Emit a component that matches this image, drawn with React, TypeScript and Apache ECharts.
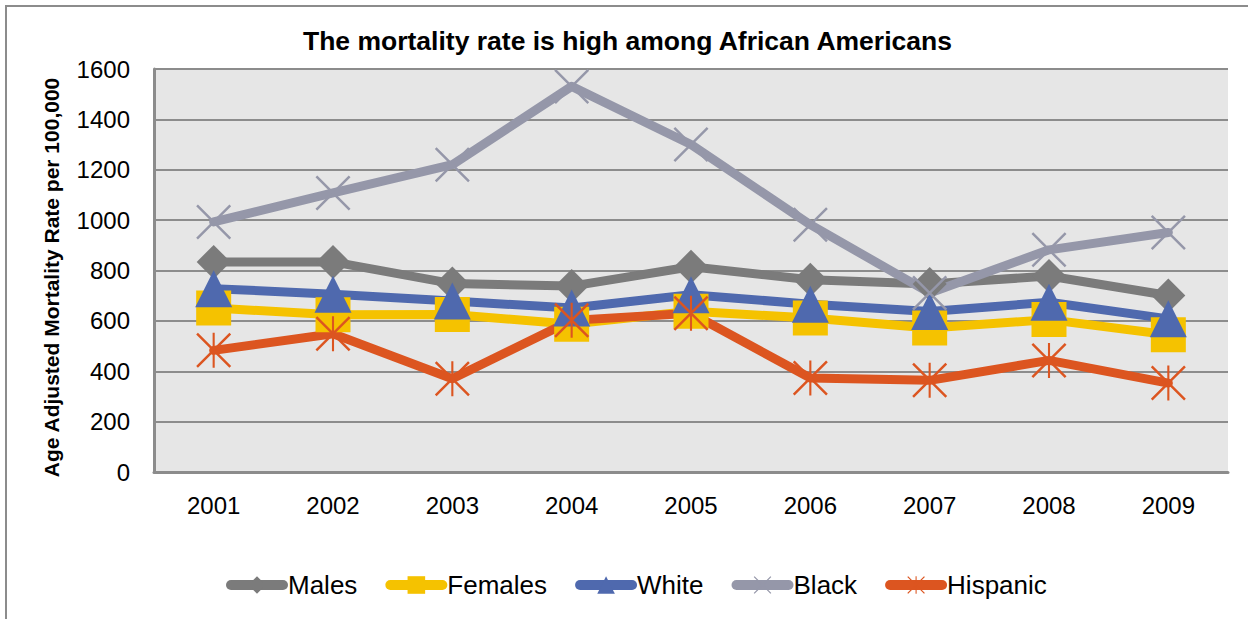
import React, { useEffect, useRef } from "react";
import * as echarts from "echarts";

const years = ["2001", "2002", "2003", "2004", "2005", "2006", "2007", "2008", "2009"];
const males = [834, 834, 748, 738, 815, 763, 746, 778, 701];
const females = [651, 624, 625, 587, 638, 611, 572, 605, 545];
const white = [728, 706, 679, 651, 704, 666, 637, 674, 608];
const black = [993, 1108, 1220, 1531, 1300, 982, 711, 882, 951];
const hispanic = [483, 549, 370, 602, 630, 373, 364, 443, 353];

const titleText = "The mortality rate is high among African Americans";
const yAxisName = "Age Adjusted Mortality Rate per 100,000";

const X_PATH = "path://M0,5 L5,0 L100,95 L95,100 Z M95,0 L100,5 L5,100 L0,95 Z";
const STAR_PATH =
  "path://M0,5 L5,0 L100,95 L95,100 Z M95,0 L100,5 L5,100 L0,95 Z M47,0 L53,0 L53,100 L47,100 Z";

const FONT = "'Liberation Sans', Arial, sans-serif";

export default function App() {
  const ref = useRef<HTMLDivElement>(null);
  useEffect(() => {
    document.body.style.margin = "0";
    if (!ref.current) return;
    const chart = echarts.init(ref.current, null, { renderer: "svg" });
    const mk = (name: string, data: number[], color: string, symbol: string, size: number) => ({
      name,
      type: "line",
      data,
      symbol,
      symbolSize: size,
      showAllSymbol: true,
      lineStyle: { color, width: 9, cap: "round", join: "round" },
      itemStyle: { color },
      emphasis: { disabled: true },
    });
    chart.setOption({
      animation: false,
      textStyle: { fontFamily: FONT },
      title: {
        text: titleText,
        left: 303,
        top: 27,
        padding: 0,
        textStyle: { fontSize: 26.5, fontWeight: "bold", color: "#000", fontFamily: FONT },
      },
      graphic: [
        {
          type: "rect",
          shape: { x: 6, y: 6, width: 1300, height: 700 },
          style: { fill: "none", stroke: "#8c8c8c", lineWidth: 2 },
          silent: true,
        },
      ],
      legend: {
        left: 226,
        top: 572,
        itemWidth: 52,
        itemHeight: 22,
        itemGap: 28,
        padding: 0,
        lineStyle: { width: 10, cap: "round" },
        textStyle: { fontSize: 26, color: "#000", fontFamily: FONT },
        data: ["Males", "Females", "White", "Black", "Hispanic"],
      },
      grid: {
        left: 154,
        top: 69,
        right: 20,
        bottom: 147,
        show: true,
        backgroundColor: "#e6e6e6",
        borderWidth: 0,
      },
      xAxis: {
        type: "category",
        data: years,
        boundaryGap: true,
        axisLine: { show: true, lineStyle: { color: "#8c8c8c", width: 3 } },
        axisTick: { show: false },
        axisLabel: { fontSize: 24, color: "#000", margin: 21, fontFamily: FONT },
        splitLine: { show: false },
      },
      yAxis: {
        type: "value",
        min: 0,
        max: 1600,
        interval: 200,
        name: yAxisName,
        nameLocation: "middle",
        nameGap: 92,
        nameTextStyle: {
          fontSize: 21,
          fontWeight: "bold",
          color: "#000",
          fontFamily: FONT,
          padding: [0, 0, 0, -14],
        },
        axisLine: { show: true, lineStyle: { color: "#8c8c8c", width: 3 } },
        axisTick: { show: false },
        axisLabel: {
          fontSize: 24,
          color: "#000",
          margin: 24,
          fontFamily: FONT,
          formatter: (v: number) => String(v),
        },
        splitLine: { show: true, lineStyle: { color: "#8c8c8c", width: 2 } },
      },
      series: [
        mk("Males", males, "#7b7b7b", "diamond", 34),
        mk("Females", females, "#f5c200", "rect", 35),
        mk("White", white, "#4f69ae", "triangle", 37),
        mk("Black", black, "#9597a9", X_PATH, 35),
        mk("Hispanic", hispanic, "#dc5520", STAR_PATH, 35),
      ],
    });
    return () => chart.dispose();
  }, []);
  return <div ref={ref} style={{ width: 1248, height: 619 }} />;
}
